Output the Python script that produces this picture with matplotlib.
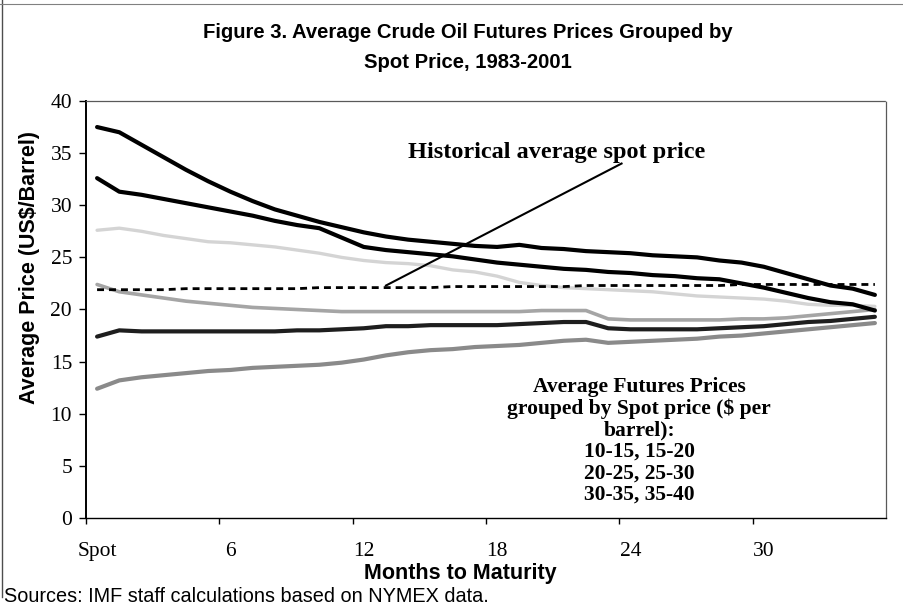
import matplotlib

matplotlib.use("Agg")
import matplotlib.pyplot as plt
from matplotlib.lines import Line2D

# ---------------------------------------------------------------------------
# Data: average futures price (US$/barrel) by months to maturity,
# grouped by spot price band
# ---------------------------------------------------------------------------
months = list(range(36))  # 0 = spot, 1..35 months

band_35_40 = [37.5, 37.0, 35.8, 34.6, 33.4, 32.3, 31.3, 30.4, 29.6, 29.0,
              28.4, 27.9, 27.4, 27.0, 26.7, 26.5, 26.3, 26.1, 26.0, 26.2,
              25.9, 25.8, 25.6, 25.5, 25.4, 25.2, 25.1, 25.0, 24.7, 24.5,
              24.1, 23.5, 22.9, 22.3, 22.0, 21.4]
band_30_35 = [32.6, 31.3, 31.0, 30.6, 30.2, 29.8, 29.4, 29.0, 28.5, 28.1,
              27.8, 26.9, 26.0, 25.7, 25.5, 25.3, 25.1, 24.8, 24.5, 24.3,
              24.1, 23.9, 23.8, 23.6, 23.5, 23.3, 23.2, 23.0, 22.9, 22.5,
              22.1, 21.6, 21.1, 20.7, 20.5, 19.9]
band_25_30 = [27.6, 27.8, 27.5, 27.1, 26.8, 26.5, 26.4, 26.2, 26.0, 25.7,
              25.4, 25.0, 24.7, 24.5, 24.4, 24.2, 23.8, 23.6, 23.2, 22.6,
              22.3, 22.1, 22.0, 21.9, 21.8, 21.7, 21.5, 21.3, 21.2, 21.1,
              21.0, 20.8, 20.5, 20.4, 20.4, 20.3]
band_20_25 = [22.4, 21.7, 21.4, 21.1, 20.8, 20.6, 20.4, 20.2, 20.1, 20.0,
              19.9, 19.8, 19.8, 19.8, 19.8, 19.8, 19.8, 19.8, 19.8, 19.8,
              19.9, 19.9, 19.9, 19.1, 19.0, 19.0, 19.0, 19.0, 19.0, 19.1,
              19.1, 19.2, 19.4, 19.6, 19.8, 20.0]
band_15_20 = [17.4, 18.0, 17.9, 17.9, 17.9, 17.9, 17.9, 17.9, 17.9, 18.0,
              18.0, 18.1, 18.2, 18.4, 18.4, 18.5, 18.5, 18.5, 18.5, 18.6,
              18.7, 18.8, 18.8, 18.2, 18.1, 18.1, 18.1, 18.1, 18.2, 18.3,
              18.4, 18.6, 18.8, 18.9, 19.1, 19.3]
band_10_15 = [12.4, 13.2, 13.5, 13.7, 13.9, 14.1, 14.2, 14.4, 14.5, 14.6,
              14.7, 14.9, 15.2, 15.6, 15.9, 16.1, 16.2, 16.4, 16.5, 16.6,
              16.8, 17.0, 17.1, 16.8, 16.9, 17.0, 17.1, 17.2, 17.4, 17.5,
              17.7, 17.9, 18.1, 18.3, 18.5, 18.7]
hist_avg_spot = [21.9, 21.9, 21.9, 21.9, 22.0, 22.0, 22.0, 22.0, 22.0, 22.0,
                 22.1, 22.1, 22.1, 22.1, 22.1, 22.1, 22.2, 22.2, 22.2, 22.2,
                 22.2, 22.2, 22.3, 22.3, 22.3, 22.3, 22.3, 22.3, 22.3, 22.4,
                 22.4, 22.4, 22.4, 22.4, 22.4, 22.4]

xtick_pos = [0, 6, 12, 18, 24, 30]
xtick_labels = ["Spot", "6", "12", "18", "24", "30"]

SERIF = "Liberation Serif"
SANS = "Liberation Sans"

fig = plt.figure(figsize=(9.04, 6.15), dpi=100)
ax = fig.add_axes([0.0951, 0.1577, 0.8850, 0.6781])

# series: (values, colour, linewidth)
series = [
    (band_10_15, "#8a8a8a", 3.0),
    (band_15_20, "#1e1e1e", 3.0),
    (band_20_25, "#a5a5a5", 2.6),
    (band_25_30, "#d4d4d4", 2.4),
    (band_30_35, "#000000", 3.0),
    (band_35_40, "#000000", 3.0),
]
for vals, col, lw in series:
    ax.plot(months, vals, color=col, linewidth=lw, solid_capstyle="round", zorder=3)

ax.plot(months, hist_avg_spot, color="black", linewidth=2.0,
        dashes=(2.5, 1.8), zorder=4)

# pointer line from label to the dashed average line
ax.plot([13.0, 23.6], [22.3, 34.0], color="black", linewidth=1.5, zorder=5)
ax.text(20.7, 35.1, "Historical average spot price", ha="center", va="center",
        fontsize=17.5, fontweight="bold", family=SERIF)

ax.text(24.4, 7.4,
        "Average Futures Prices\ngrouped by Spot price ($ per\nbarrel):\n"
        "10-15, 15-20\n20-25, 25-30\n30-35, 35-40",
        ha="center", va="center", fontsize=15.5, fontweight="bold",
        family=SERIF, linespacing=1.1)

ax.set_xlim(-0.5, 35.5)
ax.set_ylim(0, 40)
ax.set_yticks(range(0, 41, 5))
ax.set_xticks([-0.5, 5.5, 11.5, 17.5, 23.5, 29.5])
ax.set_xticklabels([])
ax.set_xticks(xtick_pos, minor=True)
ax.set_xticklabels(xtick_labels, minor=True)
ax.tick_params(axis="x", which="major", direction="out", length=4, width=1)
ax.tick_params(axis="x", which="minor", length=0, pad=17)
ax.tick_params(axis="y", direction="out", length=5, width=1, pad=5)
for lab in ax.get_xticklabels(minor=True) + ax.get_yticklabels():
    lab.set_fontfamily(SERIF)
    lab.set_fontsize(15.5)

ax.spines["left"].set_linewidth(1.4)
ax.spines["bottom"].set_linewidth(1.0)
for side in ("top", "right"):
    ax.spines[side].set_color("0.35")
    ax.spines[side].set_linewidth(0.9)
    ax.spines[side].set_linestyle((0, (1, 1)))

fig.text(0.518, 1 - 32 / 615,
         "Figure 3. Average Crude Oil Futures Prices Grouped by",
         ha="center", va="center", fontsize=14.6, fontweight="bold", family=SANS)
fig.text(0.518, 1 - 62 / 615, "Spot Price, 1983-2001",
         ha="center", va="center", fontsize=14.6, fontweight="bold", family=SANS)
fig.text(30 / 904, 1 - 268 / 615, "Average Price (US$/Barrel)", rotation=90,
         ha="center", va="center", fontsize=15.5, fontweight="bold", family=SANS)
fig.text(460 / 904, 1 - 573 / 615, "Months to Maturity",
         ha="center", va="center", fontsize=15.5, fontweight="bold", family=SANS)
fig.text(4 / 904, 1 - 597 / 615,
         "Sources: IMF staff calculations based on NYMEX data.",
         ha="left", va="center", fontsize=14.3, family=SANS)

# scanned page border (left and top)
fig.add_artist(Line2D([2 / 904, 2 / 904], [0.03, 1.0], color="0.3", linewidth=1.0))
fig.add_artist(Line2D([0.0, 1.0], [1 - 4 / 615, 1 - 4 / 615], color="0.5", linewidth=0.8))

fig.savefig("out.png", dpi=100)
